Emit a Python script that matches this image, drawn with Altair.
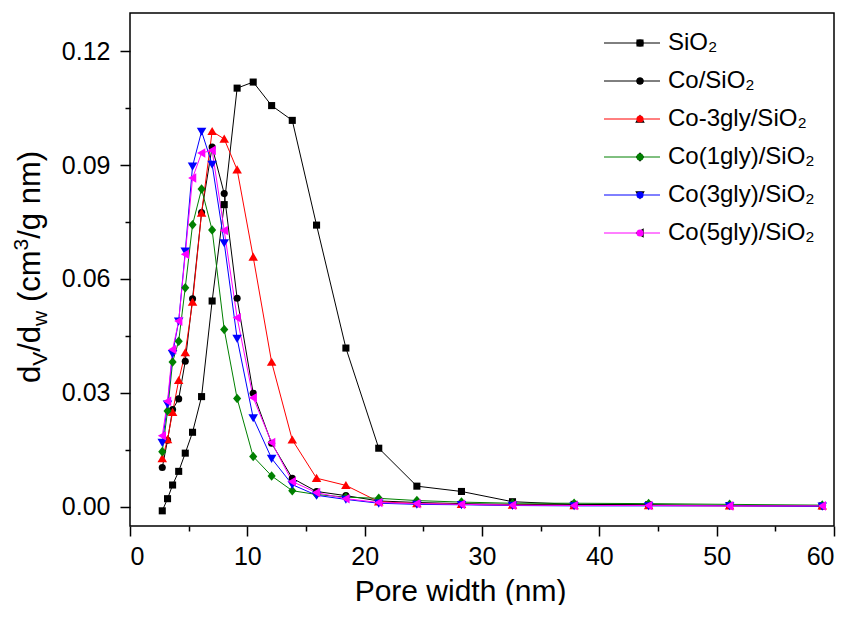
import altair as alt
import pandas as pd

# ---------------- data ----------------
pore_width = [2.75, 3.2, 3.63, 4.15, 4.71, 5.33, 6.1, 7.0, 8.03, 9.13, 10.5, 12.07,
              13.83, 15.9, 18.4, 21.2, 24.45, 28.25, 32.6, 37.85, 44.2, 51.1, 59.0]

sio2 = [-0.0011, 0.0021, 0.0057, 0.0093, 0.0141, 0.0196, 0.0290, 0.0542, 0.0796, 0.1103,
        0.1119, 0.1057, 0.1018, 0.0742, 0.0418, 0.0154, 0.0054, 0.0040, 0.0013, 0.0006,
        0.0005, 0.0003, 0.0002]
co_sio2 = [0.0103, 0.0175, 0.0256, 0.0284, 0.0383, 0.0548, 0.0775, 0.0948, 0.0825, 0.0549,
           0.0299, 0.0167, 0.0075, 0.0040, 0.0029, 0.0015, 0.0011, 0.0008, 0.0006, 0.0005,
           0.0004, 0.0003, 0.0002]
co_3gly_sio2 = [0.0127, 0.0177, 0.0249, 0.0333, 0.0406, 0.0539, 0.0774, 0.0989, 0.0969, 0.0888,
                0.0658, 0.0381, 0.0176, 0.0075, 0.0056, 0.0013, 0.0008, 0.0006, 0.0004, 0.0003,
                0.0003, 0.0002, 0.0002]
co_1gly = [0.0145, 0.0252, 0.0381, 0.0436, 0.0577, 0.0743, 0.0837, 0.0729, 0.0467, 0.0285,
           0.0132, 0.0081, 0.0042, 0.0032, 0.0025, 0.0022, 0.0016, 0.0012, 0.0009, 0.0009,
           0.0008, 0.0006, 0.0004]
co_3gly = [0.0169, 0.0270, 0.0403, 0.0489, 0.0673, 0.0897, 0.0989, 0.0902, 0.0695, 0.0443,
           0.0234, 0.0127, 0.0058, 0.0030, 0.0019, 0.0009, 0.0006, 0.0005, 0.0003, 0.0002,
           0.0002, 0.0002, 0.0001]
co_5gly = [0.0187, 0.0278, 0.0414, 0.0489, 0.0665, 0.0866, 0.0932, 0.0939, 0.0728, 0.0498,
           0.0287, 0.0169, 0.0066, 0.0037, 0.0021, 0.0011, 0.0008, 0.0006, 0.0004, 0.0003,
           0.0003, 0.0002, 0.0002]

series_names = ["SiO₂", "Co/SiO₂", "Co-3gly/SiO₂", "Co(1gly)/SiO₂", "Co(3gly)/SiO₂", "Co(5gly)/SiO₂"]
series_values = [sio2, co_sio2, co_3gly_sio2, co_1gly, co_3gly, co_5gly]
series_colors = ["#000000", "#000000", "#ff0000", "#008000", "#0000ff", "#ff00ff"]
series_shapes = [
    "M-1,-1H1V1H-1Z",                    # square
    "circle",                             # circle
    "M0,-1.25L1.35,1.05L-1.35,1.05Z",     # triangle up
    "M0,-1.35L1.15,0L0,1.35L-1.15,0Z",    # diamond
    "M0,1.25L1.35,-1.05L-1.35,-1.05Z",    # triangle down
    "M-1.25,0L1.05,-1.35L1.05,1.35Z",     # triangle left
]

x_ticks = list(range(0, 61, 5))
y_ticks = [0, 0.015, 0.03, 0.045, 0.06, 0.075, 0.09, 0.105, 0.12]

rows = []
for name, vals in zip(series_names, series_values):
    for w, v in zip(pore_width, vals):
        rows.append({"series": name, "series_m": name, "w": w, "v": v})
df = pd.DataFrame(rows)

FONT = "Liberation Sans"
W, H = 704, 513

xscale = alt.Scale(domain=[0, 60], nice=False, zero=False)
yscale = alt.Scale(domain=[-0.0051, 0.1301], nice=False, zero=False)

x_axis = alt.Axis(
    values=x_ticks,
    labelExpr="datum.value % 10 === 0 ? datum.label : ''",
    tickSize={"condition": {"test": "datum.value % 10 === 0", "value": 10}, "value": 5},
    labelPadding=8,
    title="Pore width (nm)",
    titleX=330, titleY=74, titleAlign="center", titleBaseline="alphabetic",
    domain=False, grid=False,
)
y_axis = alt.Axis(
    values=y_ticks,
    labelExpr="abs(round(datum.value*1000)) % 30 === 0 ? format(datum.value, '.2f') : ''",
    tickSize={"condition": {"test": "abs(round(datum.value*1000)) % 30 === 0", "value": 10}, "value": 5},
    labelPadding=10,
    title=None,
    domain=False, grid=False,
)

line_legend = alt.Legend(
    title=None, orient="none", legendX=473.5, legendY=11,
    symbolType="stroke", symbolSize=3136, symbolStrokeWidth=1,
    labelFont=FONT, labelFontSize=24, labelColor="black", labelOffset=7.5, labelLimit=400,
    clipHeight=38, rowPadding=0, padding=0,
)
marker_legend = alt.Legend(
    title=None, orient="none", legendX=498, legendY=11,
    symbolSize=50, symbolStrokeWidth=0, labelExpr="''",
    labelFont=FONT, labelFontSize=24, labelLimit=400,
    clipHeight=38, rowPadding=0, padding=0,
)

lines = alt.Chart(df).mark_line(strokeWidth=1).encode(
    x=alt.X("w:Q", scale=xscale, axis=x_axis),
    y=alt.Y("v:Q", scale=yscale, axis=y_axis),
    stroke=alt.Stroke("series:N", scale=alt.Scale(domain=series_names, range=series_colors),
                      legend=line_legend),
)

points = alt.Chart(df).mark_point(filled=True, size=50, opacity=1).encode(
    x=alt.X("w:Q", scale=xscale),
    y=alt.Y("v:Q", scale=yscale),
    fill=alt.Fill("series_m:N", sort=series_names, scale=alt.Scale(range=series_colors),
                  legend=marker_legend),
    shape=alt.Shape("series_m:N", sort=series_names, scale=alt.Scale(range=series_shapes),
                    legend=marker_legend),
)

# ---- y-axis title with sub/superscripts, built from text pieces ----
M, m = 31, 21
adv = {"d": .556, "V": .667, "/": .278, "w": .722, " ": .278, "(": .333, "c": .5,
       "m": .833, "3": .556, "g": .556, "n": .556, ")": .333}
# (text, font size, baseline shift, extra gap before in em of main size)
pieces = [("d", M, 0, 0), ("V", m, 7, 0), ("/d", M, 0, 0), ("w", m, 7, 0),
          ("(cm", M, 0, .278), ("3", m, -12, 0), ("/g nm)", M, 0, 0)]
base_x = -90
cur_y = 370
title_layers = []
for txt, fs, shift, gap in pieces:
    cur_y -= gap * M
    title_layers.append(
        alt.Chart(alt.Data(values=[{"t": txt}])).mark_text(
            angle=270, align="left", baseline="alphabetic", font=FONT, fontSize=fs, color="black"
        ).encode(x=alt.value(base_x + shift), y=alt.value(cur_y), text="t:N")
    )
    cur_y -= sum(adv[c] for c in txt) * fs

chart = alt.layer(lines, points, *title_layers).properties(
    width=W, height=H,
    autosize=alt.AutoSizeParams(type="none"),
    padding={"left": 122, "top": 5, "right": 12, "bottom": 79},
).configure_view(
    stroke="black", strokeWidth=1.5
).configure_axis(
    labelFont=FONT, labelFontSize=25, labelColor="black",
    titleFont=FONT, titleFontSize=30, titleFontWeight="normal", titleColor="black",
    tickColor="black", tickWidth=1.5,
)

chart.save("out.html", embed_options={"renderer": "svg", "actions": False})
